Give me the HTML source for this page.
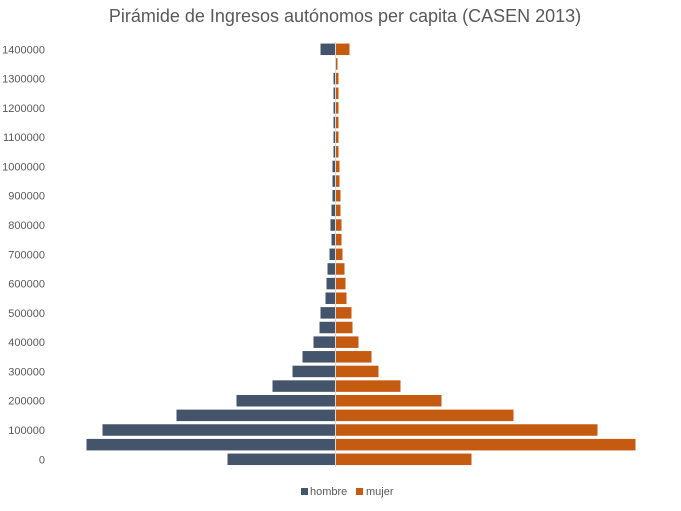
<!DOCTYPE html>
<html><head><meta charset="utf-8"><style>
body{margin:0;background:#fff;font-family:"Liberation Sans",sans-serif}
</style></head><body>
<svg id="chart" width="681" height="506" xmlns="http://www.w3.org/2000/svg">
<rect width="681" height="506" fill="#fff"/>
<text x="345" y="22" text-anchor="middle" font-size="18" fill="#595959" font-family="Liberation Sans, sans-serif">Pirámide de Ingresos autónomos per capita (CASEN 2013)</text>
<g id="bars"></g>
<g id="ylabels"></g>
<line x1="335.5" y1="42" x2="335.5" y2="467" stroke="#d9d9d9" stroke-width="1"/>
<g>
<rect x="301" y="488" width="7" height="7" fill="#44546a"/>
<text x="310" y="495" font-size="11" fill="#595959">hombre</text>
<rect x="356" y="488" width="7" height="7" fill="#c55a11"/>
<text x="366" y="495" font-size="11" fill="#595959">mujer</text>
</g>
</svg>
<script>
const categories = [0,50000,100000,150000,200000,250000,300000,350000,400000,450000,500000,550000,600000,650000,700000,750000,800000,850000,900000,950000,1000000,1050000,1100000,1150000,1200000,1250000,1300000,1350000,1400000];
const hombre = [108,249,233,159,99,63,43,33,22,16,15,10,9,8,6,4,5,4,3,3,3,2,2,2,2,2,2,0.5,15];
const mujer = [136,300,262,178,106,65,43,36,23,17,16,11,10,9,7,6,6,5,5,4,4,3,3,3,3,3,3,2,14];
const tickLabels = ["0","100000","200000","300000","400000","500000","600000","700000","800000","900000","1000000","1100000","1200000","1300000","1400000"];
const NS="http://www.w3.org/2000/svg";
const cx=335.5, y0=459.3, step=(459.3-49.3)/28, bh=11.5;
const xScale=v=>v*1.0;
const yPos=i=>y0-i*step;
const bars=document.getElementById('bars');
categories.forEach((c,i)=>{
  const y=yPos(i)-bh/2;
  const l=document.createElementNS(NS,'rect');
  
  
  l.setAttribute('x',cx-xScale(hombre[i]));l.setAttribute('y',y);
  l.setAttribute('width',xScale(hombre[i]));l.setAttribute('height',bh);
  l.setAttribute('fill','#44546a');bars.appendChild(l);
  const r=document.createElementNS(NS,'rect');
  
  
  r.setAttribute('x',cx);r.setAttribute('y',y);
  r.setAttribute('width',xScale(mujer[i]));r.setAttribute('height',bh);
  r.setAttribute('fill','#c55a11');bars.appendChild(r);
});
const yl=document.getElementById('ylabels');
tickLabels.forEach((t,k)=>{
  const tx=document.createElementNS(NS,'text');
  
  
  tx.setAttribute('x',45);tx.setAttribute('y',yPos(k*2)+4);
  tx.setAttribute('text-anchor','end');tx.setAttribute('font-size','11');
  tx.setAttribute('fill','#595959');tx.textContent=t;yl.appendChild(tx);
});
</script>
</body></html>
